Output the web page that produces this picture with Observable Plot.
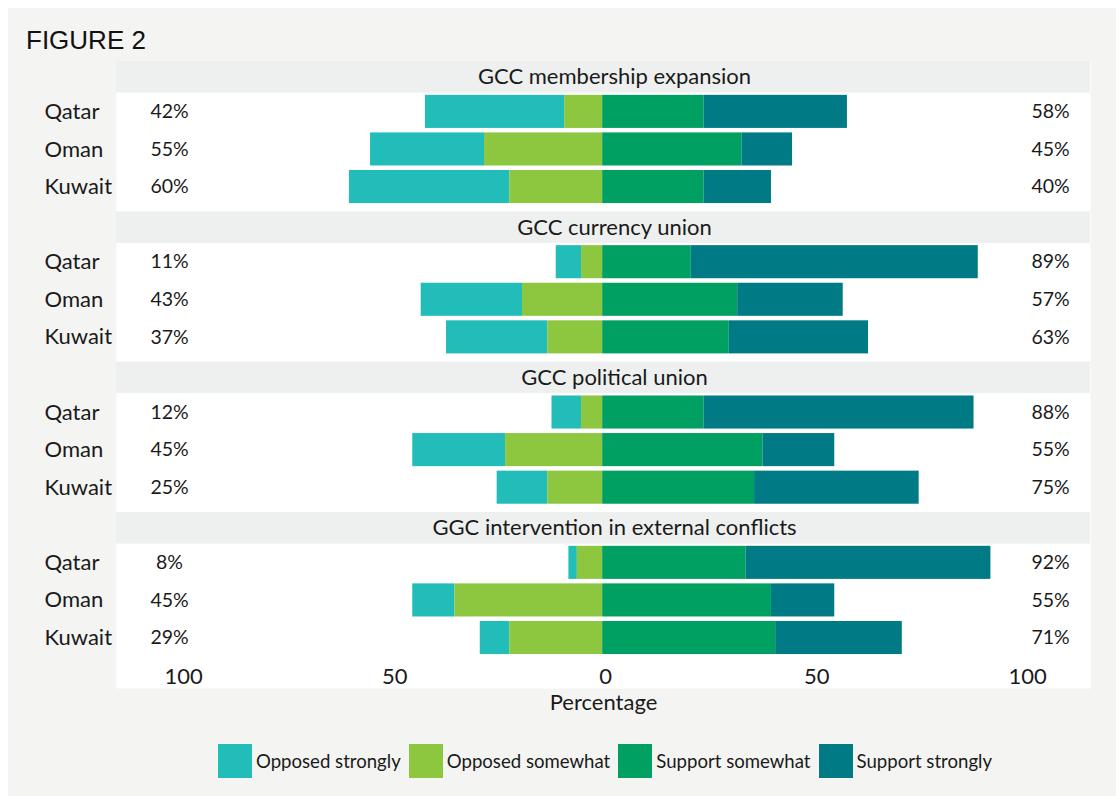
<!DOCTYPE html>
<html><head><meta charset="utf-8">
<script src="https://cdn.jsdelivr.net/npm/d3@7"></script>
<script src="https://cdn.jsdelivr.net/npm/@observablehq/plot@0.6"></script>
<style>
html,body{margin:0;padding:0;background:#fff;}
#page{position:relative;margin:8px 0 0 8px;width:1108px;height:788px;background:#f4f4f2;font-family:Lato,"Open Sans",sans-serif;color:#1a1a1a;overflow:hidden}
#title{height:46px;box-sizing:border-box;padding:19px 0 0 18px;font:26px/26px "Liberation Sans",Arial,sans-serif;color:#111;}
#chart svg{display:block}
#legend{margin-left:114px;width:974px;margin-top:18px}
#legend div{display:flex !important;justify-content:center;align-items:center;font:18.6px Lato,sans-serif;color:#1a1a1a;margin:0 !important;min-height:0 !important}
#legend span{margin-right:8px !important;display:inline-flex;align-items:center}
#legend svg{margin-right:4px !important}
</style></head>
<body><div id="page"><div id="title">FIGURE 2</div><div id="chart"></div><div id="legend"></div></div>
<script>
const topics = ["GCC membership expansion","GCC currency union","GCC political union","GGC intervention in external conflicts"];
const countries = ["Qatar","Oman","Kuwait"];
const responses = ["Opposed strongly","Opposed somewhat","Support somewhat","Support strongly"];
const colors = ["#22bcb9","#8dc63f","#00a062","#007a84"];
// values [topic][country]
const opposedStrongly = [[33,27,38],[6,24,24],[7,22,12],[2,10,7]];
const opposedSomewhat = [[9,28,22],[5,19,13],[5,23,13],[6,35,22]];
const supportSomewhat = [[24,33,24],[21,32,30],[24,38,36],[34,40,41]];
const supportStrongly = [[34,12,16],[68,25,33],[64,17,39],[58,15,30]];
const opposedLabels = [["42%","55%","60%"],["11%","43%","37%"],["12%","45%","25%"],["8%","45%","29%"]];
const supportLabels = [["58%","45%","40%"],["89%","57%","63%"],["88%","55%","75%"],["92%","55%","71%"]];
const xTicks = [-100,-50,0,50,100];

const key = (t,c) => `${t}|${c}`;
const yDomain = topics.flatMap(t => [key(t,"header"), ...countries.map(c => key(t,c))]);
const countryKeys = topics.flatMap(t => countries.map(c => key(t,c)));
const series = [opposedStrongly, opposedSomewhat, supportSomewhat, supportStrongly];
const sign = [-1,-1,1,1];
const rows = [];
topics.forEach((t,i) => countries.forEach((c,j) => responses.forEach((r,k) =>
  rows.push({topic:t, country:c, response:r, key:key(t,c), value: sign[k]*series[k][i][j]}))));
const labels = topics.flatMap((t,i) => countries.map((c,j) => ({key:key(t,c), opp:opposedLabels[i][j], sup:supportLabels[i][j]})));
const headers = topics.map(t => ({topic:t, key:key(t,"header")}));

const chart = Plot.plot({
  width:1108, height:672,
  marginTop:7, marginRight:26, marginBottom:38, marginLeft:108,
  style:{background:"transparent", fontFamily:"Lato, sans-serif", color:"#1a1a1a", overflow:"visible"},
  x:{domain:[-115.2,115.6], axis:null},
  y:{type:"band", domain:yDomain, range:[1,602.3], padding:0, round:false, axis:null},
  color:{domain:responses, range:colors},
  marks:[
    Plot.frame({fill:"white", stroke:"none"}),
    Plot.cell(headers, {y:"key", fill:"#eef0ef", insetTop:6}),
    Plot.text(headers, {y:"key", text:"topic", frameAnchor:"middle", dx:11, dy:3, fontSize:22}),
    Plot.barX(rows, Plot.stackX({y:"key", x:"value", fill:"response",
      order:["Opposed somewhat","Opposed strongly","Support somewhat","Support strongly"],
      insetTop:2.25, insetBottom:2.25})),
    Plot.text(labels, {y:"key", text:"opp", frameAnchor:"left", textAnchor:"middle", dx:53, fontSize:19.5}),
    Plot.text(labels, {y:"key", text:"sup", frameAnchor:"right", textAnchor:"middle", dx:-40, fontSize:19.5}),
    Plot.axisY(countryKeys, {anchor:"left", tickSize:0, tickPadding:0, textAnchor:"start", dx:-72,
      tickFormat:d => d.split("|")[1], fontSize:22, label:null}),
    Plot.axisX(xTicks, {anchor:"bottom", tickSize:0, tickPadding:0, dx:3, dy:-12, lineAnchor:"middle",
      tickFormat:d => String(Math.abs(d)), fontSize:22, label:null}),
    Plot.text(["Percentage"], {frameAnchor:"bottom", lineAnchor:"middle", dy:14, fontSize:22})
  ]
});
document.getElementById("chart").appendChild(chart);

const legend = Plot.legend({color:{type:"ordinal", domain:responses, range:colors}, legend:"swatches", swatchSize:34});
document.getElementById("legend").appendChild(legend);
</script></body></html>
